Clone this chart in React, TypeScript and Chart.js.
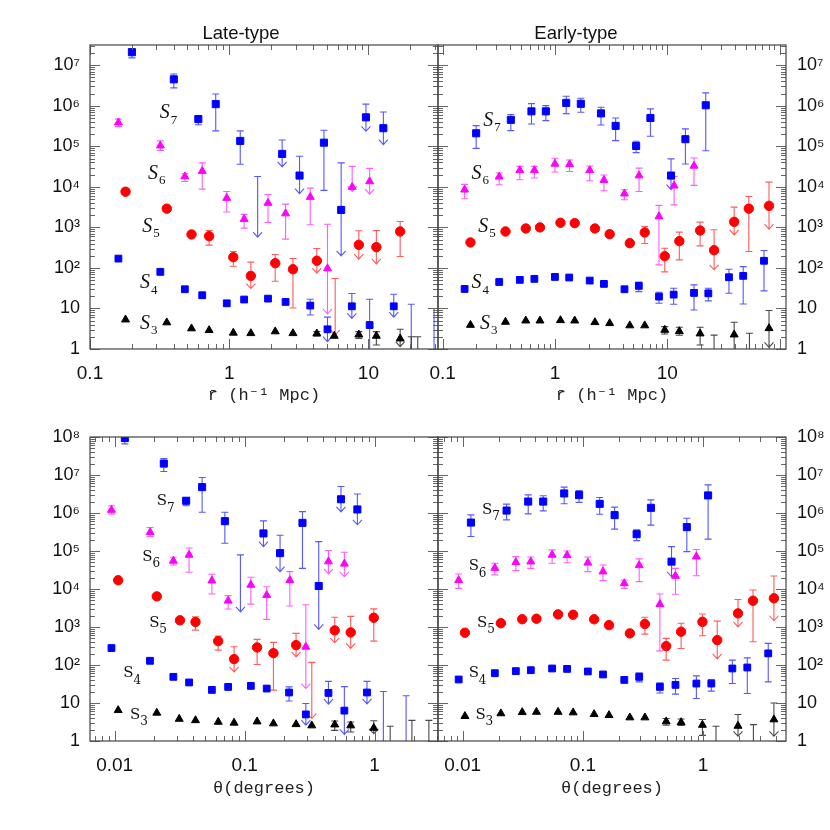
import React, { useEffect, useRef } from 'react';
import { Chart, registerables } from 'chart.js';

Chart.register(...registerables);

// Point format: [x, y, upper, lower, kind]  kind 1 = error bar, 2 = upper limit (arrow at lower)
// y = null : only the bar / limit is visible

// ---------- Late-type, r-bar ----------
const lateR_S7 = [
  [0.20, 2.1e7, 2.54e7, 1.52e7, 1],
  [0.40, 4.5e6, 6.1e6, 2.76e6, 1],
  [0.60, 4.7e5, 5.5e5, 3.4e5, 1],
  [0.80, 1.1e6, 1.96e6, 2.4e5, 1],
  [1.20, 1.36e5, 2.4e5, 3.6e4, 1],
  [1.60, null, 1.8e4, 575, 2],
  [2.40, 6.5e4, 1.43e5, 3.1e4, 2],
  [3.2, 1.9e4, 5.7e4, 6.8e3, 2],
  [4.79, 1.23e5, 2.5e5, 8.2e3, 1],
  [6.37, 2.7e3, 3.9e4, 199, 2],
  [9.6, 5.2e5, 1.1e6, 2.35e5, 2],
  [12.8, 2.8e5, 7.0e5, 1.1e5, 2],
];
const lateR_S6 = [
  [0.16, 3.85e5, 4.7e5, 3.06e5, 1],
  [0.32, 1.04e5, 1.36e5, 7.9e4, 1],
  [0.48, 1.8e4, 2.1e4, 1.36e4, 1],
  [0.64, 2.45e4, 3.9e4, 8.8e3, 1],
  [0.96, 5.3e3, 7.7e3, 2.4e3, 1],
  [1.28, 1.6e3, 2.1e3, 960, 1],
  [1.90, 4.0e3, 6.5e3, 1.32e3, 1],
  [2.54, 2.2e3, 3.76e3, 513, 1],
  [3.82, 5.6e3, 9.3e3, 1.16e3, 1],
  [5.08, 97, 1.2e3, 7.3, 2],
  [7.64, 9.9e3, 3.2e4, 7.7e3, 2],
  [10.2, 1.36e4, 2.86e4, 6.6e3, 2],
];
const lateR_S5 = [
  [0.18, 7.6e3], [0.356, 2.9e3], [0.536, 670],
  [0.717, 608, 840, 365, 1],
  [1.07, 184, 254, 110, 1],
  [1.43, 63.6, 139, 31, 2],
  [2.14, 131, 214, 47, 1],
  [2.87, 93, 171, 10.3, 1],
  [4.26, 150, 301, 74, 2],
  [5.77, null, 55, 2.2, 2],
  [8.53, 371, 824, 164, 2],
  [11.4, 325, 840, 126, 2],
  [16.9, 794, 1.4e3, 191, 1],
];
const lateR_S4 = [
  [0.16, 170], [0.32, 80], [0.48, 29.8], [0.64, 21.2], [0.96, 13.4], [1.28, 16.6], [1.90, 17.5], [2.54, 14.5],
  [3.82, 11.8, 16.9, 6.9, 1],
  [5.08, 3.06, 6.1, 1.52, 2],
  [7.6, 11.3, 23.3, 5.7, 2],
  [10.2, 3.9, 16.9, 0.5, 1],
  [15.2, 11.3, 22.4, 6.1, 2],
  [20.3, null, 12.7, 0.5, 1],
  [29.6, null, 10, 0.5, 1],
];
const lateR_S3 = [
  [0.18, 5.3], [0.356, 4.5], [0.536, 3.2], [0.717, 2.9], [1.07, 2.5], [1.43, 2.44], [2.14, 2.7], [2.87, 2.44],
  [4.26, 2.4, 2.7, 2.1, 1],
  [5.68, 2.1],
  [8.53, 2.26, 2.68, 1.83, 1],
  [11.4, 2.1, 2.68, 1.25, 1],
  [16.9, 1.8, 3.06, 1.14, 2],
  [20.3, null, 2.0, 0.5, 1],
  [22.6, null, 2.0, 0.5, 1],
];

// ---------- Early-type, r-bar ----------
const earlyR_S7 = [
  [0.199, 2.1e5, 3.24e5, 8.9e4, 1],
  [0.405, 4.5e5, 6.1e5, 2.44e5, 1],
  [0.618, 7.3e5, 1.13e6, 3.56e5, 1],
  [0.83, 7.3e5, 1.01e6, 4.3e5, 1],
  [1.26, 1.18e6, 1.72e6, 6.4e5, 1],
  [1.70, 1.12e6, 1.53e6, 6.9e5, 1],
  [2.57, 6.5e5, 9.2e5, 3.37e5, 1],
  [3.47, 3.2e5, 5.0e5, 1.38e5, 1],
  [5.28, 1.02e5, 1.33e5, 7.0e4, 1],
  [7.08, 5.0e5, 8.4e5, 1.77e5, 1],
  [10.8, 1.9e4, 4.9e4, 8.5e3, 2],
  [14.5, 1.5e5, 2.7e5, 3.66e4, 1],
  [22.0, 1.03e6, 2.08e6, 7.8e4, 1],
];
const earlyR_S6 = [
  [0.157, 8.5e3, 1.15e4, 5.1e3, 1],
  [0.319, 1.78e4, 2.19e4, 1.13e4, 1],
  [0.487, 2.56e4, 3.2e4, 1.5e4, 1],
  [0.656, 2.56e4, 3.2e4, 1.65e4, 1],
  [1.0, 3.7e4, 5.06e4, 2.32e4, 1],
  [1.35, 3.6e4, 4.6e4, 2.4e4, 1],
  [2.04, 2.56e4, 3.27e4, 1.42e4, 1],
  [2.73, 1.47e4, 1.96e4, 8.0e3, 1],
  [4.16, 6.8e3, 8.5e3, 4.8e3, 1],
  [5.61, 1.9e4, 2.9e4, 7.7e3, 1],
  [8.44, 1.86e3, 3.5e3, 119, 1],
  [11.5, 1.07e4, 1.8e4, 3.6e3, 1],
  [17.3, 3.3e4, 5.15e4, 1.09e4, 1],
];
const earlyR_S5 = [
  [0.177, 425], [0.363, 793], [0.55, 940], [0.736, 1.0e3], [1.12, 1.3e3], [1.50, 1.27e3], [2.27, 940], [3.07, 680], [4.64, 408],
  [6.30, 750, 1.05e3, 401, 1],
  [9.5, 195, 307, 80, 1],
  [12.8, 458, 764, 158, 1],
  [19.6, 837, 1.35e3, 351, 1],
  [26.1, 274, 873, 90, 2],
  [39.4, 1.37e3, 3.17e3, 656, 2],
  [53.2, 2.9e3, 5.8e3, 254, 1],
  [80.5, 3.4e3, 1.31e4, 906, 2],
];
const earlyR_S4 = [
  [0.157, 30.3], [0.319, 45], [0.487, 50.7], [0.656, 53.7], [1.0, 60], [1.34, 58], [2.04, 48.8], [2.73, 40.4], [4.16, 29.8],
  [5.58, 36, 45, 26, 1],
  [8.44, 19.6, 25.2, 13.4, 1],
  [11.4, 22, 31.6, 12.7, 1],
  [17.3, 24.2, 38.2, 9.2, 1],
  [23.2, 23.6, 31.6, 15.4, 1],
  [35.4, 59, 93, 23.8, 1],
  [47.4, 63.7, 108, 12.9, 1],
  [72.6, 150, 269, 27.1, 1],
];
const earlyR_S3 = [
  [0.177, 3.9], [0.363, 4.65], [0.55, 5.0], [0.736, 5.0], [1.12, 5.1], [1.5, 5.0], [2.27, 4.56], [3.07, 4.3], [4.64, 3.8], [6.3, 3.8],
  [9.5, 2.95, 3.56, 2.35, 1],
  [12.8, 2.73, 3.43, 2.18, 1],
  [19.6, 2.4, 3.43, 1.25, 1],
  [26.1, null, 2.2, 0.5, 1],
  [39.4, 2.26, 4.56, 0.5, 1],
  [53.9, null, 2.44, 0.5, 1],
  [80.5, 3.24, 8.9, 1.1, 2],
];

// ---------- Late-type, theta ----------
const lateT_S7 = [
  [0.01198, 9.4e7, 1.15e8, 6.6e7, 1],
  [0.0239, 2.0e7, 2.73e7, 1.24e7, 1],
  [0.0355, 2.1e6, 2.47e6, 1.55e6, 1],
  [0.0471, 4.8e6, 8.6e6, 1.05e6, 1],
  [0.0705, 6.1e5, 1.05e6, 1.6e5, 1],
  [0.0929, null, 7.9e4, 2.5e3, 2],
  [0.1397, 2.9e5, 6.2e5, 1.3e5, 2],
  [0.1875, 8.8e4, 2.6e5, 2.86e4, 2],
  [0.279, 5.5e5, 1.09e6, 3.5e4, 1],
  [0.372, 1.2e4, 1.77e5, 866, 2],
  [0.552, 2.3e6, 5.0e6, 1.07e6, 2],
  [0.738, 1.24e6, 3.15e6, 4.9e5, 2],
];
const lateT_S6 = [
  [0.00945, 1.2e6, 1.55e6, 9.5e5, 1],
  [0.01875, 3.1e5, 4.14e5, 2.4e5, 1],
  [0.0283, 5.5e4, 6.86e4, 4.3e4, 1],
  [0.0374, 7.9e4, 1.2e5, 2.76e4, 1],
  [0.056, 1.66e4, 2.44e4, 7.4e3, 1],
  [0.0747, 4.9e3, 6.7e3, 2.97e3, 1],
  [0.1117, 1.28e4, 2.04e4, 4.0e3, 1],
  [0.148, 6.9e3, 1.15e4, 1.59e3, 1],
  [0.223, 1.7e4, 2.86e4, 3.57e3, 1],
  [0.296, 300, 3.85e3, 24, 2],
  [0.442, 5.3e4, 1.03e5, 2.49e4, 2],
  [0.586, 4.6e4, 9.3e4, 2.1e4, 2],
];
const lateT_S5 = [
  [0.01064, 1.7e4], [0.0211, 6.4e3], [0.0318, 1.5e3],
  [0.0419, 1.35e3, 1.86e3, 830, 1],
  [0.0626, 425, 577, 246, 1],
  [0.083, 143, 303, 66, 2],
  [0.1248, 290, 472, 103, 1],
  [0.1667, 205, 395, 21.8, 1],
  [0.249, 334, 680, 164, 2],
  [0.329, null, 117, 3.9, 2],
  [0.494, 815, 1.8e3, 384, 2],
  [0.656, 720, 1.9e3, 273, 2],
  [0.987, 1.75e3, 3.0e3, 425, 1],
];
const lateT_S4 = [
  [0.00945, 279], [0.0187, 129], [0.0283, 48.8], [0.0374, 34.7], [0.056, 22.1], [0.0747, 26.5], [0.1117, 28.2], [0.148, 24],
  [0.22, 18.9, 26.5, 11.3, 1],
  [0.296, 5.0, 9.7, 2.6, 2],
  [0.442, 18.4, 37, 9.3, 2],
  [0.586, 6.3, 27, 1.5, 2],
  [0.875, 18.9, 37, 9.5, 2],
  [1.17, null, 20, 0.5, 1],
  [1.75, null, 15.5, 0.5, 1],
];
const lateT_S3 = [
  [0.01064, 6.45], [0.0211, 5.5], [0.0314, 3.8], [0.0419, 3.5], [0.0627, 3.17], [0.083, 3.0], [0.1248, 3.24], [0.1667, 2.88], [0.249, 2.75], [0.329, 2.55],
  [0.494, 2.7, 3.37, 1.9, 1],
  [0.656, 2.55, 3.17, 1.73, 1],
  [0.987, 2.2, 3.4, 1.55, 2],
  [1.32, null, 2.44, 0.5, 1],
  [1.94, null, 3.5, 0.5, 1],
  [2.62, null, 3.5, 0.5, 1],
];

// ---------- Early-type, theta ----------
const earlyT_S7 = [
  [0.01172, 5.6e5, 8.95e5, 2.4e5, 1],
  [0.0232, 1.16e6, 1.71e6, 6.6e5, 1],
  [0.0351, 2.0e6, 3.0e6, 9.5e5, 1],
  [0.0468, 2.0e6, 2.84e6, 1.14e6, 1],
  [0.0699, 3.27e6, 4.8e6, 1.75e6, 1],
  [0.093, 2.96e6, 3.9e6, 1.9e6, 1],
  [0.138, 1.74e6, 2.56e6, 9.3e5, 1],
  [0.1836, 8.8e5, 1.43e6, 3.76e5, 1],
  [0.28, 2.77e5, 3.6e5, 1.88e5, 1],
  [0.368, 1.37e6, 2.22e6, 4.8e5, 1],
  [0.546, 5.25e4, 1.3e5, 2.1e4, 2],
  [0.732, 4.25e5, 7.3e5, 9.6e4, 1],
  [1.10, 2.9e6, 5.5e6, 2.05e5, 1],
];
const earlyT_S6 = [
  [0.00927, 1.7e4, 2.49e4, 1.04e4, 1],
  [0.01853, 3.57e4, 4.76e4, 2.35e4, 1],
  [0.0277, 5.05e4, 7.1e4, 3.04e4, 1],
  [0.0369, 5.25e4, 6.96e4, 3.5e4, 1],
  [0.0555, 7.9e4, 1.07e5, 4.76e4, 1],
  [0.0739, 7.7e4, 1.0e5, 4.9e4, 1],
  [0.110, 4.9e4, 6.96e4, 2.86e4, 1],
  [0.147, 2.87e4, 4.3e4, 1.66e4, 1],
  [0.221, 1.41e4, 1.73e4, 1.04e4, 1],
  [0.294, 4.2e4, 6.2e4, 1.56e4, 1],
  [0.437, 4.0e3, 7.4e3, 236, 1],
  [0.589, 2.2e4, 3.5e4, 7.3e3, 1],
  [0.879, 7.1e4, 1.1e5, 2.24e4, 1],
];
const earlyT_S5 = [
  [0.01045, 706], [0.0208, 1.26e3], [0.0313, 1.6e3], [0.0411, 1.65e3], [0.0622, 2.15e3], [0.083, 2.1e3], [0.124, 1.6e3], [0.165, 1.12e3], [0.246, 680],
  [0.328, 1.2e3, 1.8e3, 651, 1],
  [0.493, 314, 501, 134, 1],
  [0.656, 750, 1.25e3, 273, 1],
  [0.987, 1.37e3, 2.19e3, 588, 1],
  [1.31, 452, 1.43e3, 145, 2],
  [1.95, 2.29e3, 5.3e3, 1.01e3, 2],
  [2.60, 4.9e3, 9.4e3, 408, 1],
  [3.88, 5.7e3, 2.2e4, 1.46e3, 2],
];
const earlyT_S4 = [
  [0.00927, 41.6], [0.01853, 61], [0.0277, 69], [0.0369, 73], [0.0555, 81], [0.0739, 79], [0.110, 67.6], [0.147, 56.4], [0.221, 40.5],
  [0.294, 48.7, 62, 36, 1],
  [0.437, 26.5, 33.8, 18.4, 1],
  [0.589, 30, 44.2, 17.1, 1],
  [0.879, 32.5, 51.8, 13.1, 1],
  [1.17, 32.5, 41.6, 20.5, 1],
  [1.75, 81, 134, 32.6, 1],
  [2.33, 86, 154, 17.8, 1],
  [3.48, 202, 370, 36, 1],
];
const earlyT_S3 = [
  [0.01045, 4.5], [0.0208, 5.3], [0.0313, 5.7], [0.0411, 5.8], [0.0622, 5.8], [0.083, 5.6], [0.124, 5.06], [0.165, 4.76], [0.246, 4.14], [0.328, 4.14],
  [0.493, 3.25, 3.9, 2.6, 1],
  [0.656, 3.1, 3.8, 2.55, 1],
  [0.987, 2.64, 3.67, 1.41, 1],
  [1.28, null, 2.44, 0.5, 1],
  [1.95, 2.49, 5.0, 1.33, 2],
  [2.62, null, 2.7, 0.5, 1],
  [3.88, 3.67, 10, 1.33, 2],
];

// ---------- series labels (S_n) anchored in data units ----------
const SUBSCRIPTS = ['7', '6', '5', '4', '3'];
const lateR_labelPos = [[0.345, 6.6e5], [0.284, 2.1e4], [0.258, 1.05e3], [0.248, 42], [0.248, 4.3]];
const earlyR_labelPos = [[0.255, 4.3e5], [0.2, 2.1e4], [0.23, 1.05e3], [0.2, 42], [0.238, 4.3]];
const lateT_labelPos = [[0.0231, 2.0e6], [0.0179, 6.9e4], [0.0202, 1.25e3], [0.01277, 60], [0.0144, 4.76]];
const earlyT_labelPos = [[0.016, 1.2e6], [0.0124, 3.9e4], [0.01456, 1.25e3], [0.0124, 60], [0.0141, 4.76]];

// ---------- axes ----------
const rRangeLate = [0.1, 31.6];
const rRangeEarly = [0.091, 114];
const thetaRangeLate = [0.00646, 3.08];
const thetaRangeEarly = [0.00624, 4.89];
const yRangeTop = [1, 3.16e7];
const yRangeBottom = [1, 1e8];

const yTickValsTop = [1, 10, 100, 1e3, 1e4, 1e5, 1e6, 1e7];
const yTickLabelsTop = ['1', '10', '10²', '10³', '10⁴', '10⁵', '10⁶', '10⁷'];
const yTickValsBottom = [1, 10, 100, 1e3, 1e4, 1e5, 1e6, 1e7, 1e8];
const yTickLabelsBottom = ['1', '10', '10²', '10³', '10⁴', '10⁵', '10⁶', '10⁷', '10⁸'];
const xTickValsR = [0.1, 1, 10];
const xTickLabelsR = ['0.1', '1', '10'];
const xTickValsT = [0.01, 0.1, 1];
const xTickLabelsT = ['0.01', '0.1', '1'];

const SERIES_STYLE = [
  { style: 'rect', r: 5, color: '#0000ff', err: 'rgba(45,45,255,0.8)' },
  { style: 'triangle', r: 4.6, color: '#ff00ff', err: 'rgba(255,50,255,0.8)' },
  { style: 'circle', r: 4.7, color: '#ff0000', err: 'rgba(255,50,50,0.8)' },
  { style: 'rect', r: 4.8, color: '#0000ff', err: 'rgba(45,45,255,0.8)' },
  { style: 'triangle', r: 4.6, color: '#000000', err: 'rgba(40,40,40,0.85)' },
];

const PANELS = [
  {
    key: 'tl', left: 0, top: 0, w: 440, h: 410,
    pad: { left: 0, top: 45, right: 2, bottom: 0 }, yPos: 'left', yW: 90, xH: 61, yPad: 10, xPad: 13,
    xRange: rRangeLate, yRange: yRangeTop, xVals: xTickValsR, xLabels: xTickLabelsR,
    yVals: yTickValsTop, yLabels: yTickLabelsTop, xTitle: 'r̄ (h⁻¹ Mpc)', xTitlePad: 4,
    series: [lateR_S7, lateR_S6, lateR_S5, lateR_S4, lateR_S3], labelPos: lateR_labelPos, italicS: true,
    title: 'Late-type', titleX: 241, titleY: 34,
  },
  {
    key: 'tr', left: 400, top: 0, w: 430, h: 410,
    pad: { left: 38, top: 45, right: 0, bottom: 0 }, yPos: 'right', yW: 44, xH: 61, yPad: 11, xPad: 13,
    xRange: rRangeEarly, yRange: yRangeTop, xVals: xTickValsR, xLabels: xTickLabelsR,
    yVals: yTickValsTop, yLabels: yTickLabelsTop, xTitle: 'r̄ (h⁻¹ Mpc)', xTitlePad: 4,
    series: [earlyR_S7, earlyR_S6, earlyR_S5, earlyR_S4, earlyR_S3], labelPos: earlyR_labelPos, italicS: true,
    title: 'Early-type', titleX: 176, titleY: 34,
  },
  {
    key: 'bl', left: 0, top: 410, w: 440, h: 420,
    pad: { left: 0, top: 27, right: 2, bottom: 0 }, yPos: 'left', yW: 90, xH: 89, yPad: 10, xPad: 13,
    xRange: thetaRangeLate, yRange: yRangeBottom, xVals: xTickValsT, xLabels: xTickLabelsT,
    yVals: yTickValsBottom, yLabels: yTickLabelsBottom, xTitle: 'θ(degrees)', xTitlePad: 31,
    series: [lateT_S7, lateT_S6, lateT_S5, lateT_S4, lateT_S3], labelPos: lateT_labelPos, italicS: false,
    title: '', titleX: 0, titleY: 0,
  },
  {
    key: 'br', left: 400, top: 410, w: 430, h: 420,
    pad: { left: 38, top: 27, right: 0, bottom: 0 }, yPos: 'right', yW: 44, xH: 89, yPad: 11, xPad: 13,
    xRange: thetaRangeEarly, yRange: yRangeBottom, xVals: xTickValsT, xLabels: xTickLabelsT,
    yVals: yTickValsBottom, yLabels: yTickLabelsBottom, xTitle: 'θ(degrees)', xTitlePad: 31,
    series: [earlyT_S7, earlyT_S6, earlyT_S5, earlyT_S4, earlyT_S3], labelPos: earlyT_labelPos, italicS: false,
    title: '', titleX: 0, titleY: 0,
  },
];

function logTicks(min: number, max: number) {
  const out: any[] = [];
  const e0 = Math.floor(Math.log10(min));
  const e1 = Math.ceil(Math.log10(max));
  for (let e = e0; e <= e1; e++) {
    for (let k = 1; k <= 9; k++) {
      const v = k * Math.pow(10, e);
      if (v >= min * 0.99999 && v <= max * 1.00001) out.push({ value: v });
    }
  }
  return out;
}

function labeler(vals: number[], labels: string[]) {
  return (v: any) => {
    const n = Number(v);
    const i = vals.findIndex((t) => Math.abs(Math.log10(t) - Math.log10(n)) < 1e-6);
    return i >= 0 ? labels[i] : '';
  };
}

function isMajor(v: number) {
  const lg = Math.log10(v);
  return Math.abs(lg - Math.round(lg)) < 1e-6;
}

function makeDecor(cfg: any) {
  return {
    id: 'decor_' + cfg.key,
    beforeDatasetsDraw(chart: any) {
      const { ctx, chartArea: a, scales } = chart;
      const xs = scales.x;
      const ys = scales.y;
      ctx.save();
      ctx.beginPath();
      ctx.rect(a.left, a.top, a.right - a.left, a.bottom - a.top);
      ctx.clip();
      ctx.lineWidth = 1.1;
      cfg.series.forEach((pts: any[], si: number) => {
        ctx.strokeStyle = SERIES_STYLE[si].err;
        pts.forEach((p: any[]) => {
          if (p.length < 5 || !p[4]) return;
          const px = xs.getPixelForValue(p[0]);
          const top = ys.getPixelForValue(p[2]);
          const bot = ys.getPixelForValue(p[3]);
          ctx.beginPath();
          ctx.moveTo(px, top);
          ctx.lineTo(px, bot);
          ctx.moveTo(px - 3.5, top);
          ctx.lineTo(px + 3.5, top);
          if (p[4] === 1) {
            ctx.moveTo(px - 3.5, bot);
            ctx.lineTo(px + 3.5, bot);
          } else {
            ctx.moveTo(px - 4.5, bot - 5);
            ctx.lineTo(px, bot);
            ctx.lineTo(px + 4.5, bot - 5);
          }
          ctx.stroke();
        });
      });
      ctx.restore();
    },
    afterDraw(chart: any) {
      const { ctx, chartArea: a, scales } = chart;
      const xs = scales.x;
      const ys = scales.y;
      ctx.save();
      // inward tick marks on all four sides
      ctx.strokeStyle = '#666';
      ctx.lineWidth = 1;
      ctx.beginPath();
      xs.ticks.forEach((t: any) => {
        const len = isMajor(t.value) ? 10 : 5;
        const p = Math.round(xs.getPixelForValue(t.value)) + 0.5;
        ctx.moveTo(p, a.bottom);
        ctx.lineTo(p, a.bottom - len);
        ctx.moveTo(p, a.top);
        ctx.lineTo(p, a.top + len);
      });
      ys.ticks.forEach((t: any) => {
        const len = isMajor(t.value) ? 10 : 5;
        const p = Math.round(ys.getPixelForValue(t.value)) + 0.5;
        ctx.moveTo(a.left, p);
        ctx.lineTo(a.left + len, p);
        ctx.moveTo(a.right, p);
        ctx.lineTo(a.right - len, p);
      });
      ctx.stroke();
      // frame
      ctx.strokeStyle = '#444';
      ctx.lineWidth = 1.2;
      ctx.strokeRect(a.left, a.top, a.right - a.left, a.bottom - a.top);
      // series labels
      ctx.fillStyle = '#111';
      cfg.labelPos.forEach((lp: number[], i: number) => {
        const px = xs.getPixelForValue(lp[0]);
        const py = ys.getPixelForValue(lp[1]);
        ctx.textBaseline = 'middle';
        ctx.textAlign = 'center';
        ctx.font = cfg.italicS ? 'italic 20px "Liberation Serif", serif' : '15px "DejaVu Serif", serif';
        ctx.fillText('S', px, py);
        ctx.textAlign = 'left';
        ctx.font = cfg.italicS ? '13px "Liberation Serif", serif' : '12px "DejaVu Serif", serif';
        ctx.fillText(SUBSCRIPTS[i], px + (cfg.italicS ? 6 : 5), py + 7);
      });
      // panel title
      if (cfg.title) {
        ctx.font = '18.5px "Liberation Sans", Arial, sans-serif';
        ctx.textAlign = 'center';
        ctx.textBaseline = 'middle';
        ctx.fillStyle = '#111';
        ctx.fillText(cfg.title, cfg.titleX, cfg.titleY);
      }
      ctx.restore();
    },
  };
}

function Panel({ cfg }: { cfg: any }) {
  const ref = useRef<HTMLCanvasElement | null>(null);
  useEffect(() => {
    if (!ref.current) return;
    const datasets = cfg.series.map((pts: any[], si: number) => ({
      data: pts.map((p: any[]) => ({ x: p[0], y: p[1] })),
      pointStyle: SERIES_STYLE[si].style,
      pointRadius: SERIES_STYLE[si].r,
      pointBackgroundColor: SERIES_STYLE[si].color,
      pointBorderColor: SERIES_STYLE[si].color,
      pointBorderWidth: 1,
      showLine: false,
    }));
    const chart = new Chart(ref.current, {
      type: 'scatter',
      data: { datasets },
      plugins: [makeDecor(cfg)],
      options: {
        animation: false,
        responsive: false,
        events: [],
        layout: { padding: cfg.pad, autoPadding: false },
        plugins: { legend: { display: false }, tooltip: { enabled: false }, title: { display: false } },
        scales: {
          x: {
            type: 'logarithmic',
            position: 'bottom',
            min: cfg.xRange[0],
            max: cfg.xRange[1],
            grid: { display: false, drawTicks: false },
            border: { display: false },
            ticks: {
              autoSkip: false,
              maxRotation: 0,
              minRotation: 0,
              padding: cfg.xPad,
              color: '#111',
              font: { family: '"Liberation Sans", Arial, sans-serif', size: 19 },
              callback: labeler(cfg.xVals, cfg.xLabels),
            },
            title: {
              display: true,
              text: cfg.xTitle,
              color: '#222',
              font: { family: '"Liberation Mono", "DejaVu Sans Mono", monospace', size: 17, lineHeight: 1.2 },
              padding: { top: 0, bottom: cfg.xTitlePad },
            },
            afterBuildTicks: (s: any) => { s.ticks = logTicks(cfg.xRange[0], cfg.xRange[1]); },
            afterFit: (s: any) => {
              s.height = cfg.xH;
              s.paddingLeft = 0; s.paddingRight = 0; s.paddingTop = 0; s.paddingBottom = 0;
            },
          },
          y: {
            type: 'logarithmic',
            position: cfg.yPos,
            min: cfg.yRange[0],
            max: cfg.yRange[1],
            grid: { display: false, drawTicks: false },
            border: { display: false },
            ticks: {
              autoSkip: false,
              padding: cfg.yPad,
              color: '#111',
              font: { family: '"Liberation Sans", Arial, sans-serif', size: 18 },
              callback: labeler(cfg.yVals, cfg.yLabels),
            },
            afterBuildTicks: (s: any) => { s.ticks = logTicks(cfg.yRange[0], cfg.yRange[1]); },
            afterFit: (s: any) => {
              s.width = cfg.yW;
              s.paddingLeft = 0; s.paddingRight = 0; s.paddingTop = 0; s.paddingBottom = 0;
            },
          },
        },
      } as any,
    } as any);
    return () => chart.destroy();
  }, []);
  return (
    <canvas
      ref={ref}
      width={cfg.w}
      height={cfg.h}
      style={{ position: 'absolute', left: cfg.left, top: cfg.top, width: cfg.w, height: cfg.h }}
    />
  );
}

export default function App() {
  return (
    <div style={{ position: 'absolute', left: 0, top: 0, width: 830, height: 830, background: '#fff', overflow: 'hidden' }}>
      {PANELS.map((p) => (
        <Panel key={p.key} cfg={p} />
      ))}
    </div>
  );
}
